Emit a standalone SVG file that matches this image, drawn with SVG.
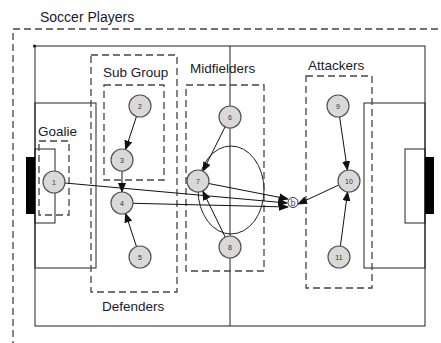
<svg xmlns="http://www.w3.org/2000/svg" width="441" height="343" viewBox="0 0 441 343">
<style>
.lbl{font-family:"Liberation Sans",Arial,sans-serif;font-size:13.5px;fill:#1a1a2e}
.field{fill:none;stroke:#222;stroke-width:1}
.grp{fill:none;stroke:#444;stroke-width:1.3;stroke-dasharray:7 4}
.node{fill:#d9d9d9;stroke:#555;stroke-width:1.2}
.num{font-family:"Liberation Sans",Arial,sans-serif;font-size:7px;fill:#333;text-anchor:middle}
.edge{stroke:#111;stroke-width:1;fill:none;marker-end:url(#arr)}
</style>
<defs>
<marker id="arr" markerWidth="10" markerHeight="8" refX="9" refY="4" orient="auto" markerUnits="userSpaceOnUse">
<path d="M0,0 L10,4 L0,8 Z" fill="#111"/>
</marker>
</defs>
<rect width="441" height="343" fill="#fff"/>
<g id="field">
<rect class="field" x="35" y="46" width="390" height="280"/>
<circle cx="34.5" cy="46" r="1.5" fill="#111"/>
<line class="field" x1="230" y1="46" x2="230" y2="326"/>
<ellipse class="field" cx="231" cy="190" rx="33" ry="44"/>
<rect class="field" x="35" y="103" width="61" height="165"/>
<rect class="field" x="35" y="149" width="20" height="74"/>
<rect x="26" y="157" width="9" height="57" fill="#000"/>
<rect class="field" x="364" y="103" width="61" height="165"/>
<rect class="field" x="405" y="149" width="20" height="74"/>
<rect x="425" y="157" width="9" height="57" fill="#000"/>
</g>
<g id="soccer-players">
<rect class="grp" x="13" y="29" width="440" height="330"/>
<text class="lbl" x="40" y="22" style="font-size:14px">Soccer Players</text>
</g>
<g id="goalie">
<rect class="grp" x="39" y="141" width="30" height="74"/>
<text class="lbl" x="38" y="136">Goalie</text>
</g>
<g id="defenders">
<rect class="grp" x="91" y="55" width="86" height="237"/>
<text class="lbl" x="102" y="311">Defenders</text>
</g>
<g id="sub-group">
<rect class="grp" x="104" y="85" width="60" height="95"/>
<text class="lbl" x="103" y="77">Sub Group</text>
</g>
<g id="midfielders">
<rect class="grp" x="186" y="85" width="78" height="186"/>
<text class="lbl" x="190" y="73">Midfielders</text>
</g>
<g id="attackers">
<rect class="grp" x="306" y="76" width="66" height="212"/>
<text class="lbl" x="308" y="70">Attackers</text>
</g>
<g id="connectors">
<line class="edge" x1="136.5" y1="116.4" x2="125.5" y2="149.6"/>
<line class="edge" x1="122" y1="171" x2="122" y2="192"/>
<line class="edge" x1="136.5" y1="246.6" x2="125.5" y2="213.4"/>
<line class="edge" x1="225.1" y1="126.8" x2="202.9" y2="171.2"/>
<line class="edge" x1="225.2" y1="237.1" x2="202.8" y2="191.1"/>
<line class="edge" x1="339.6" y1="116.9" x2="347.4" y2="170.1"/>
<line class="edge" x1="340.4" y1="246.1" x2="347.6" y2="191.9"/>
<line class="edge" x1="338.8" y1="185" x2="298" y2="204"/>
<line class="edge" x1="208.7" y1="183.5" x2="288" y2="199"/>
<line class="edge" x1="65" y1="183" x2="287" y2="203"/>
<line class="edge" x1="133" y1="203.3" x2="288" y2="207"/>
</g>
<g id="n1"><circle class="node" cx="54" cy="182" r="11"/><text class="num" x="54" y="184.5">1</text></g>
<g id="n2"><circle class="node" cx="140" cy="106" r="11"/><text class="num" x="140" y="108.5">2</text></g>
<g id="n3"><circle class="node" cx="122" cy="160" r="11"/><text class="num" x="122" y="162.5">3</text></g>
<g id="n4"><circle class="node" cx="122" cy="203" r="11"/><text class="num" x="122" y="205.5">4</text></g>
<g id="n5"><circle class="node" cx="140" cy="257" r="11"/><text class="num" x="140" y="259.5">5</text></g>
<g id="n6"><circle class="node" cx="230" cy="117" r="11"/><text class="num" x="230" y="119.5">6</text></g>
<g id="n7"><circle class="node" cx="198" cy="181" r="11"/><text class="num" x="198" y="183.5">7</text></g>
<g id="n8"><circle class="node" cx="230" cy="247" r="11"/><text class="num" x="230" y="249.5">8</text></g>
<g id="n9"><circle class="node" cx="338" cy="106" r="11"/><text class="num" x="338" y="108.5">9</text></g>
<g id="n10"><circle class="node" cx="349" cy="181" r="11"/><text class="num" x="349" y="183.5">10</text></g>
<g id="n11"><circle class="node" cx="339" cy="257" r="11"/><text class="num" x="339" y="259.5">11</text></g>
<g id="ball"><circle cx="293" cy="202.5" r="5" fill="#fff" stroke="#333" stroke-width="1"/><text class="num" x="293" y="205.5" style="font-size:9px;fill:#2a4d9b">b</text></g>
</svg>
